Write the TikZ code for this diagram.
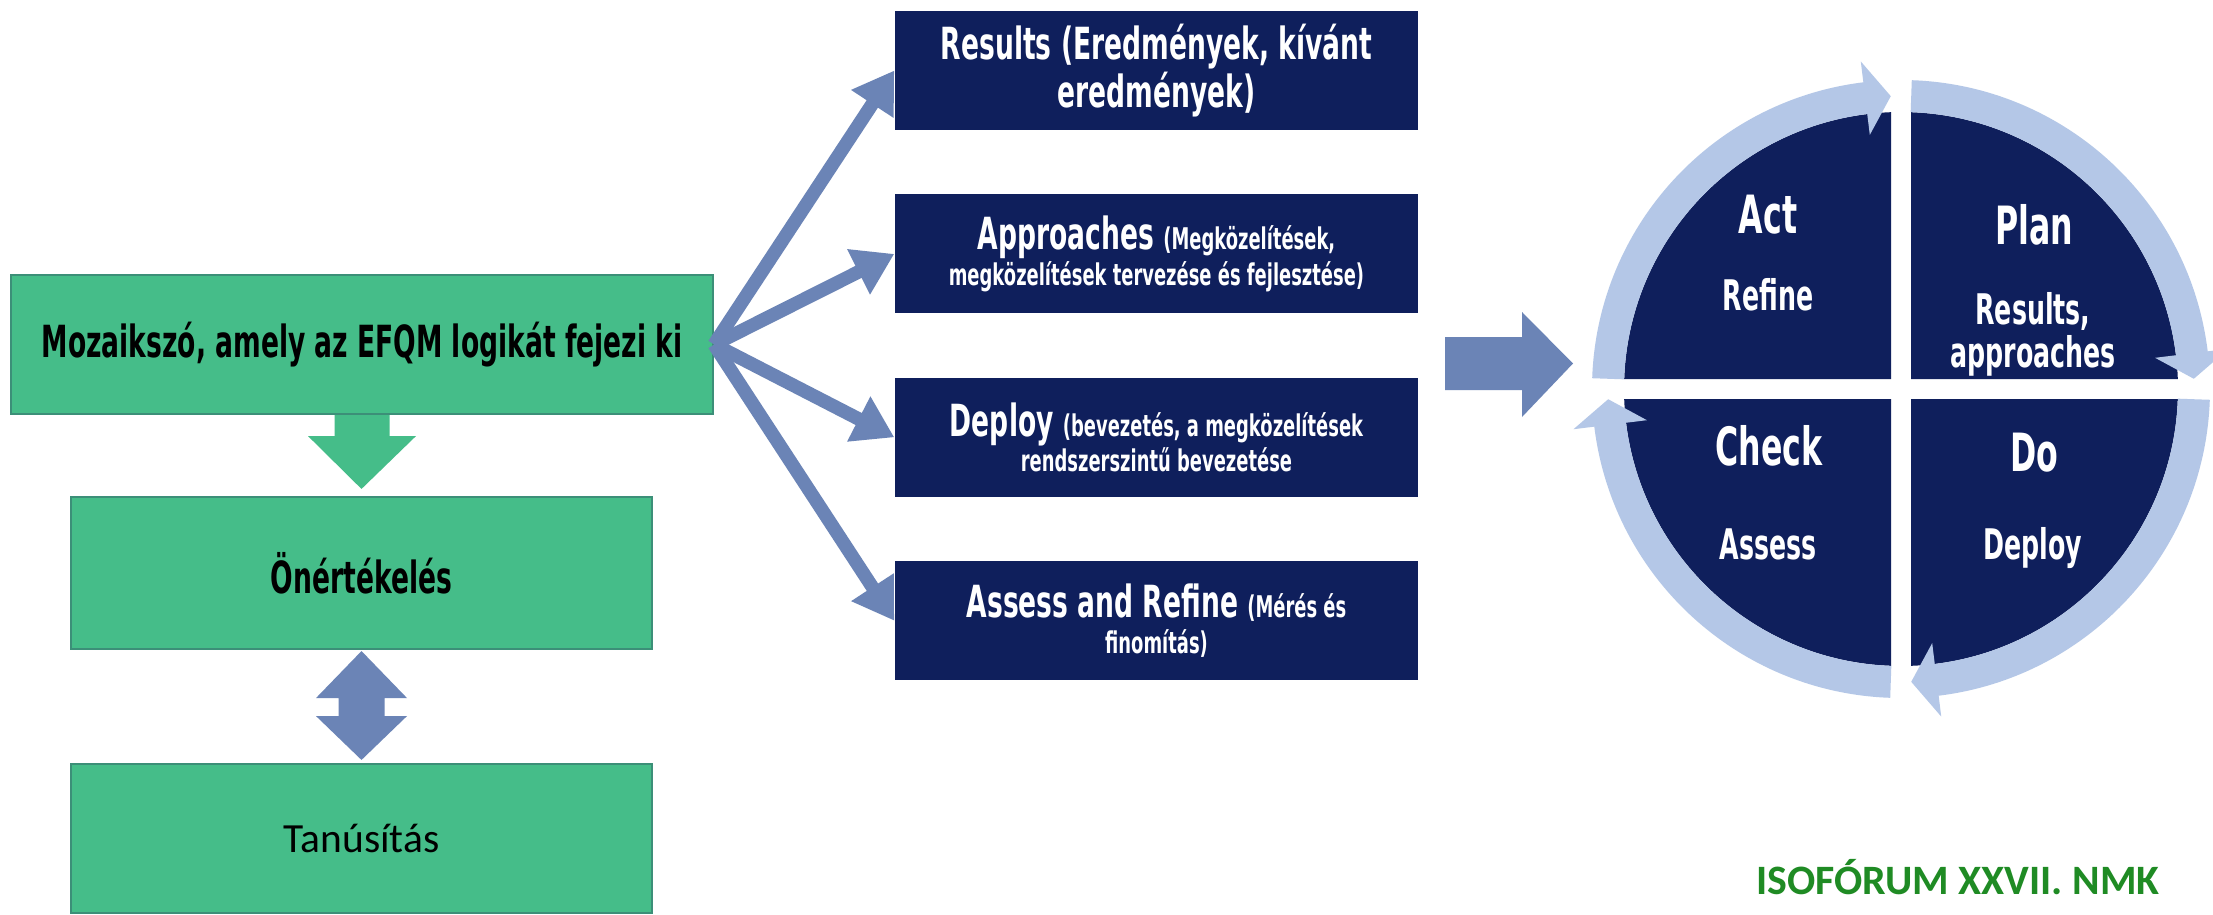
\documentclass[tikz,border=0pt]{standalone}
\usepackage{fontspec}
\setmainfont{Carlito}
\newfontfamily\condfont[FakeStretch=0.6]{DejaVu Sans}
\usepackage{tikz}
\usetikzlibrary{positioning, calc, arrows.meta}
\definecolor{efqmgreen}{HTML}{45BD89}
\definecolor{efqmedge}{HTML}{3C8F78}
\definecolor{navy}{HTML}{0F1F5C}
\definecolor{steel}{HTML}{6B84B6}
\definecolor{ringblue}{HTML}{B4C7E7}
\definecolor{isogreen}{HTML}{1F8B24}
\newcommand{\condbig}{\condfont\bfseries\fontsize{12.6}{13.9}\selectfont}
\newcommand{\condsmall}{\condfont\bfseries\fontsize{8.5}{9.5}\selectfont}

\begin{document}
\begin{tikzpicture}[
  greenbox/.style={draw=efqmedge, line width=0.6pt, fill=efqmgreen, minimum width=5.81cm, minimum height=1.52cm, inner sep=0pt},
  navybox/.style={fill=navy, text=white, minimum width=5.23cm, minimum height=1.19cm, align=center, inner sep=0pt, font=\condbig},
  hubarrow/.style={steel, line width=1.35mm, -{Triangle[length=4mm, width=4.8mm]}},
  pdcatitle/.style={text=white, font=\condfont\bfseries\fontsize{15}{17}\selectfont},
  pdcasub/.style={text=white, align=center, font=\condfont\bfseries\fontsize{12}{12.2}\selectfont}]
\fill[white] (0,0) rectangle (22.13,9.14);
\useasboundingbox (0,0) rectangle (22.13,9.14);

%% left column
\node[greenbox, minimum width=7.02cm, minimum height=1.39cm] (moz) at (3.62,5.695) {\condbig Mozaikszó, amely az EFQM logikát fejezi ki};
\node[greenbox] (oner) at (3.615,3.41) {\condbig Önértékelés};
\node[greenbox, minimum height=1.49cm] (tan) at (3.615,0.755) {\fontsize{11.8}{14}\selectfont Tanúsítás};

\fill[efqmgreen] ($(moz.south)+(-0.275,0)$) -- ++(0,-0.21) -- ++(-0.265,0) -- ($(oner.north)+(0,0.07)$) -- ($(moz.south)+(0.54,-0.21)$) -- ++(-0.265,0) -- ($(moz.south)+(0.275,0)$) -- cycle;
\fill[steel] ($(oner.south)+(0,-0.01)$) -- ++(0.455,-0.47) -- ++(-0.225,0) -- ++(0,-0.18) -- ++(0.225,0) -- ($(tan.north)+(0,0.03)$) -- ($(oner.south)+(-0.455,-0.66)$) -- ++(0.225,0) -- ++(0,0.18) -- ++(-0.225,0) -- cycle;

%% RADAR boxes
\node[navybox] (res) at (11.565,8.435) {Results (Eredmények, kívánt\\ eredmények)};
\node[navybox, below=0.63cm of res] (appr) {Approaches {\condsmall (Megközelítések,}\\[-3.7pt] {\condsmall megközelítések tervezése és fejlesztése)}};
\node[navybox, below=0.63cm of appr] (depl) {Deploy {\condsmall (bevezetés, a megközelítések}\\[-3.7pt] {\condsmall rendszerszintű bevezetése}};
\node[navybox, below=0.63cm of depl] (asse) {Assess and Refine {\condsmall (Mérés és}\\[-3.7pt] {\condsmall finomítás)}};

\foreach \b in {res,appr,depl,asse}
  \draw[hubarrow] (moz.east) -- (\b.west);

\fill[steel] (14.45,5.77) -- (15.22,5.77) -- (15.22,6.02) -- (15.73,5.505) -- (15.22,4.97) -- (15.22,5.24) -- (14.45,5.24) -- cycle;

%% PDCA circle
\coordinate (pdca) at (19.01,5.25);
\begin{scope}[shift={(pdca)}]
\foreach \r in {0,-90,-180,-270}
  \fill[navy, rotate=\r] (-0.10,0.10) -- (92.07:2.77) arc[start angle=92.07, end angle=177.93, radius=2.77] -- cycle;
\foreach \r in {0,-90,-180,-270}
  \fill[ringblue, rotate=\r] (178:2.77) arc[start angle=178, end angle=97, radius=2.77] -- (97:2.56) -- (92:2.93) -- (97:3.30) -- (97:3.09) arc[start angle=97, end angle=178, radius=3.09] -- cycle;
\end{scope}

\node[pdcatitle] (act) at (17.68,6.99) {Act};
\node[pdcasub] (actsub) at (17.68,6.19) {Refine};
\node[pdcatitle] (plan) at (20.34,6.89) {Plan};
\node[pdcasub] (plansub) at (20.33,5.80) {Results,\\ approaches};
\node[pdcatitle] (check) at (17.69,4.68) {Check};
\node[pdcasub] (checksub) at (17.68,3.70) {Assess};
\node[pdcatitle] (do) at (20.34,4.61) {Do};
\node[pdcasub] (dosub) at (20.33,3.66) {Deploy};

\node[text=isogreen, font=\bfseries\fontsize{11.9}{13}\selectfont] (iso) at (19.58,0.37) {ISOFÓRUM XXVII. NMK};
\end{tikzpicture}
\end{document}
